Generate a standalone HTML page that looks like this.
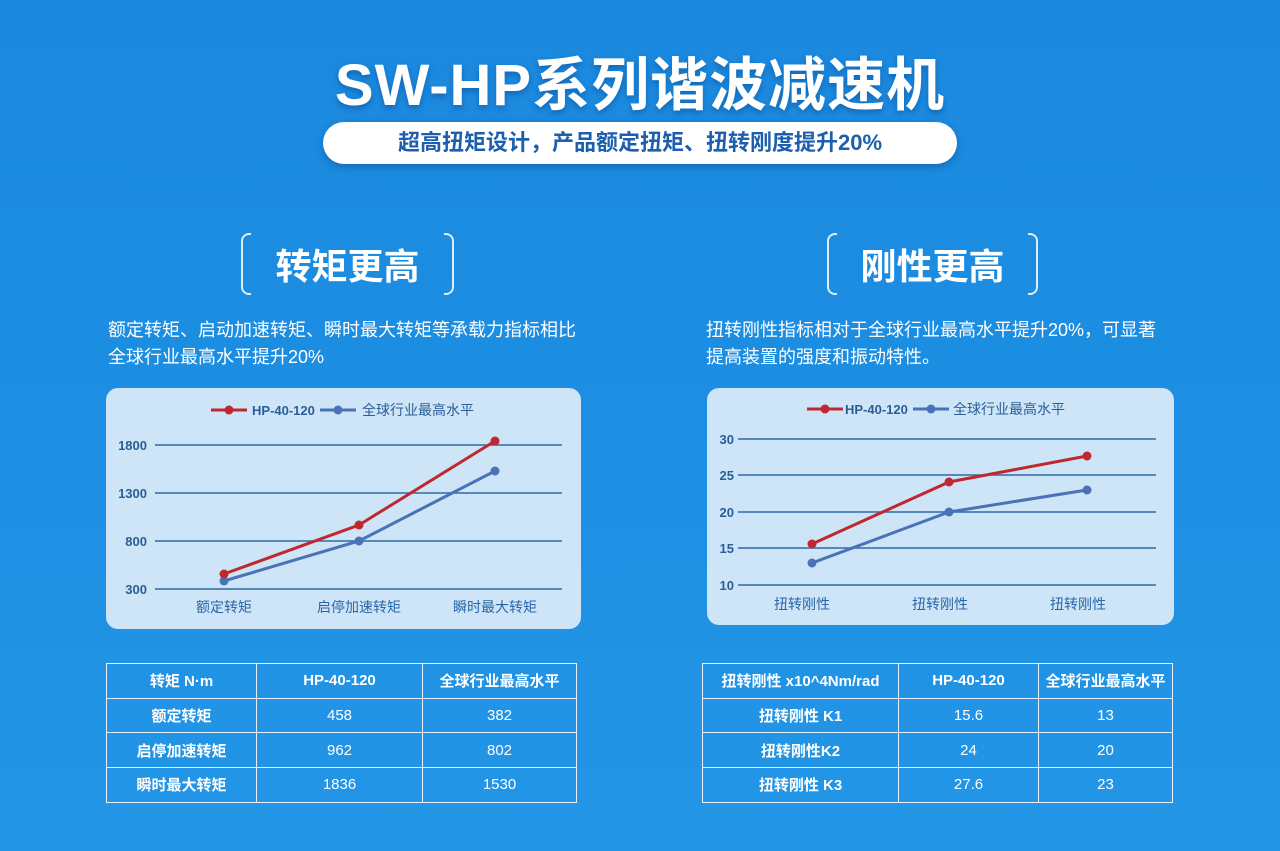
<!DOCTYPE html>
<html><head><meta charset="utf-8"><style>
*{margin:0;padding:0;box-sizing:border-box}
body{width:1280px;height:851px;overflow:hidden;position:relative;font-family:"Liberation Sans","Noto Sans CJK SC",sans-serif;background:linear-gradient(180deg,#1a88de 0%,#1d8fe3 50%,#2496e6 100%);color:#fff}
.a{position:absolute}
.t{left:0;width:1280px;text-align:center;top:38px;font-size:58px;font-weight:bold;letter-spacing:1px;text-shadow:0 3px 6px rgba(0,40,100,.35)}
.pill{left:323px;top:122px;width:634px;height:42px;border-radius:21px;background:#fff;color:#1c5fae;font-weight:bold;font-size:22px;text-align:center;line-height:42px;box-shadow:0 3px 8px rgba(0,40,100,.3)}
.h{font-size:36px;font-weight:bold;top:238px;text-align:center}
.br{width:10px;height:62px;top:233px;border:2px solid rgba(255,255,255,.85)}
.bl{border-right:none;border-radius:8px 0 0 8px}
.brr{border-left:none;border-radius:0 8px 8px 0}
.p{font-size:18px;line-height:27px}
.box{background:#cde5f6;border-radius:12px}
table{position:absolute;border-collapse:collapse;font-size:15px}
td{border:1.5px solid #e6f2fc;text-align:center;vertical-align:middle;height:34.7px}
tr:first-child td,td:first-child{font-weight:bold}
</style></head><body>
<div class="a t">SW-HP系列谐波减速机</div>
<div class="a pill">超高扭矩设计，产品额定扭矩、扭转刚度提升20%</div>

<div class="a br bl" style="left:241px"></div><div class="a br brr" style="left:444px"></div>
<div class="a h" style="left:251px;width:193px">转矩更高</div>
<div class="a br bl" style="left:827px"></div><div class="a br brr" style="left:1028px"></div>
<div class="a h" style="left:837px;width:191px">刚性更高</div>

<div class="a p" style="left:108px;top:317px">额定转矩、启动加速转矩、瞬时最大转矩等承载力指标相比<br>全球行业最高水平提升20%</div>
<div class="a p" style="left:706px;top:317px">扭转刚性指标相对于全球行业最高水平提升20%，可显著<br>提高装置的强度和振动特性。</div>

<div class="a box" style="left:106px;top:388px;width:475px;height:241px"></div>
<div class="a box" style="left:707px;top:388px;width:467px;height:237px"></div>

<svg class="a" style="left:0;top:0" width="1280" height="851" font-family="Liberation Sans,Noto Sans CJK SC,sans-serif">
<g stroke="#2f6aa8" stroke-width="1.5">
<line x1="155" y1="445" x2="562" y2="445"/><line x1="155" y1="493" x2="562" y2="493"/><line x1="155" y1="541" x2="562" y2="541"/><line x1="155" y1="589" x2="562" y2="589"/>
<line x1="738" y1="439" x2="1156" y2="439"/><line x1="738" y1="475" x2="1156" y2="475"/><line x1="738" y1="512" x2="1156" y2="512"/><line x1="738" y1="548" x2="1156" y2="548"/><line x1="738" y1="585" x2="1156" y2="585"/>
</g>
<g fill="#2a5e98" font-size="13" font-weight="bold" text-anchor="end">
<text x="147" y="450">1800</text><text x="147" y="498">1300</text><text x="147" y="546">800</text><text x="147" y="594">300</text>
<text x="734" y="444">30</text><text x="734" y="480">25</text><text x="734" y="517">20</text><text x="734" y="553">15</text><text x="734" y="590">10</text>
</g>
<g fill="#2a66a8" font-size="14" text-anchor="middle">
<text x="224" y="612">额定转矩</text><text x="359" y="612">启停加速转矩</text><text x="495" y="612">瞬时最大转矩</text>
<text x="802" y="609">扭转刚性</text><text x="940" y="609">扭转刚性</text><text x="1078" y="609">扭转刚性</text>
</g>
<g stroke-width="3" fill="none">
<polyline stroke="#4a72b8" points="224,581 359,541 495,471"/>
<polyline stroke="#c0282f" points="224,574 359,525 495,441"/>
<polyline stroke="#4a72b8" points="812,563 949,512 1087,490"/>
<polyline stroke="#c0282f" points="812,544 949,482 1087,456"/>
<line stroke="#c0282f" x1="211" y1="410" x2="247" y2="410"/><line stroke="#4a72b8" x1="320" y1="410" x2="356" y2="410"/>
<line stroke="#c0282f" x1="807" y1="409" x2="843" y2="409"/><line stroke="#4a72b8" x1="913" y1="409" x2="949" y2="409"/>
</g>
<g fill="#4a72b8"><circle cx="224" cy="581" r="4.5"/><circle cx="359" cy="541" r="4.5"/><circle cx="495" cy="471" r="4.5"/><circle cx="812" cy="563" r="4.5"/><circle cx="949" cy="512" r="4.5"/><circle cx="1087" cy="490" r="4.5"/><circle cx="338" cy="410" r="4.5"/><circle cx="931" cy="409" r="4.5"/></g>
<g fill="#c0282f"><circle cx="224" cy="574" r="4.5"/><circle cx="359" cy="525" r="4.5"/><circle cx="495" cy="441" r="4.5"/><circle cx="812" cy="544" r="4.5"/><circle cx="949" cy="482" r="4.5"/><circle cx="1087" cy="456" r="4.5"/><circle cx="229" cy="410" r="4.5"/><circle cx="825" cy="409" r="4.5"/></g>
<g fill="#2a5e98" font-size="13" font-weight="bold"><text x="252" y="415">HP-40-120</text><text x="845" y="414">HP-40-120</text></g>
<g fill="#2a5e98" font-size="14"><text x="362" y="415">全球行业最高水平</text><text x="953" y="414">全球行业最高水平</text></g>
</svg>

<table style="left:106px;top:663px;width:471px">
<tr><td style="width:150px">转矩 N·m</td><td style="width:166px">HP-40-120</td><td>全球行业最高水平</td></tr>
<tr><td>额定转矩</td><td>458</td><td>382</td></tr>
<tr><td>启停加速转矩</td><td>962</td><td>802</td></tr>
<tr><td>瞬时最大转矩</td><td>1836</td><td>1530</td></tr>
</table>
<table style="left:702px;top:663px;width:471px">
<tr><td style="width:196px">扭转刚性 x10^4Nm/rad</td><td style="width:140px">HP-40-120</td><td>全球行业最高水平</td></tr>
<tr><td>扭转刚性 K1</td><td>15.6</td><td>13</td></tr>
<tr><td>扭转刚性K2</td><td>24</td><td>20</td></tr>
<tr><td>扭转刚性 K3</td><td>27.6</td><td>23</td></tr>
</table>
</body></html>
